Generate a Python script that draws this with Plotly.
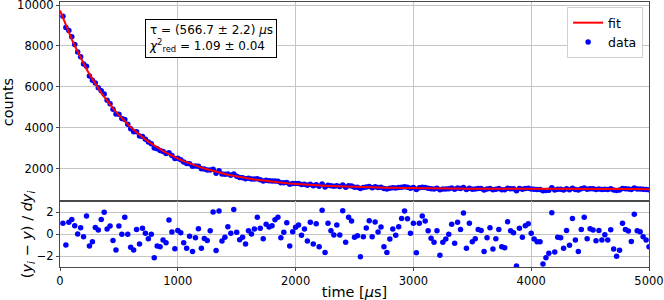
import numpy as np
import plotly.graph_objects as go
from plotly.subplots import make_subplots

# time of each bin [us]
time_us = [25 * k for k in range(1, 201)]

counts = [
    9457, 8907, 8755, 8447, 8078, 7707, 7468, 7121, 7012, 6534,
    6324, 6195, 5953, 5813, 5656, 5348, 5181, 4908, 4680, 4667,
    4459, 4411, 4167, 3956, 3810, 3802, 3601, 3572, 3435, 3302,
    3225, 3010, 2978, 2888, 2837, 2743, 2775, 2644, 2497, 2513,
    2438, 2331, 2249, 2245, 2125, 2133, 2121, 1993, 1988, 1937,
    1934, 1968, 1779, 1896, 1745, 1727, 1735, 1679, 1738, 1626,
    1572, 1555, 1507, 1531, 1497, 1493, 1513, 1455, 1401, 1431,
    1405, 1393, 1397, 1390, 1308, 1311, 1330, 1241, 1275, 1278,
    1274, 1231, 1240, 1193, 1242, 1165, 1221, 1141, 1246, 1108,
    1191, 1161, 1141, 1166, 1129, 1198, 1096, 1167, 1150, 1096,
    1097, 1029, 1085, 1107, 1125, 1074, 1114, 1080, 1092, 1031,
    1011, 1048, 1074, 1053, 1077, 1099, 1118, 1093, 1048, 1075,
    987, 1072, 1091, 1075, 1045, 1021, 1008, 1041, 967, 1004,
    1013, 1025, 1053, 997, 1057, 1035, 1081, 978, 1050, 996,
    1004, 1030, 1026, 964, 1004, 1032, 970, 999, 1026, 975,
    972, 1046, 1020, 1014, 917, 1026, 999, 1032, 1038, 1009,
    993, 985, 984, 920, 938, 950, 1067, 953, 996, 994,
    963, 1015, 972, 1049, 986, 953, 1017, 1052, 990, 1018,
    1014, 984, 1013, 985, 1001, 985, 1015, 959, 938, 955,
    1033, 1015, 1010, 981, 1058, 1011, 1008, 994, 984, 965,
]

# fitted model evaluated at t = 0 and at each bin
fit_time = [0] + time_us
fit_counts = [
    9740,
    9363, 9002, 8657, 8326, 8010, 7707, 7418, 7141, 6876, 6622,
    6380, 6148, 5926, 5713, 5510, 5315, 5129, 4951, 4780, 4617,
    4461, 4311, 4169, 4032, 3901, 3776, 3656, 3541, 3432, 3327,
    3226, 3130, 3038, 2950, 2866, 2786, 2709, 2635, 2564, 2497,
    2432, 2370, 2311, 2255, 2201, 2149, 2099, 2052, 2006, 1963,
    1921, 1882, 1844, 1807, 1772, 1739, 1707, 1677, 1647, 1620,
    1593, 1567, 1543, 1519, 1497, 1475, 1455, 1435, 1417, 1399,
    1381, 1365, 1349, 1334, 1320, 1306, 1293, 1280, 1268, 1256,
    1245, 1235, 1225, 1215, 1206, 1197, 1188, 1180, 1172, 1165,
    1158, 1151, 1145, 1138, 1132, 1127, 1121, 1116, 1111, 1106,
    1102, 1097, 1093, 1089, 1085, 1081, 1078, 1075, 1071, 1068,
    1065, 1063, 1060, 1057, 1055, 1052, 1050, 1048, 1046, 1044,
    1042, 1040, 1039, 1037, 1035, 1034, 1032, 1031, 1030, 1028,
    1027, 1026, 1025, 1024, 1023, 1022, 1021, 1020, 1019, 1018,
    1017, 1017, 1016, 1015, 1015, 1014, 1013, 1013, 1012, 1012,
    1011, 1011, 1010, 1010, 1009, 1009, 1009, 1008, 1008, 1008,
    1007, 1007, 1007, 1006, 1006, 1006, 1006, 1005, 1005, 1005,
    1005, 1004, 1004, 1004, 1004, 1004, 1004, 1003, 1003, 1003,
    1003, 1003, 1003, 1003, 1002, 1002, 1002, 1002, 1002, 1002,
    1002, 1002, 1002, 1002, 1002, 1002, 1001, 1001, 1001, 1001,
]

residuals = [
    0.97, -1.0, 1.06, 1.33, 0.76, 0.0, 0.58, -0.24, 1.64, -1.09,
    -0.7, 0.6, 0.36, 1.33, 1.97, 0.45, 0.73, -0.6, -1.45, 0.73,
    -0.03, 1.52, -0.03, -1.2, -1.45, 0.42, -0.9, 0.52, 0.06, -0.42,
    -0.03, -2.15, -1.09, -1.15, -0.55, -0.8, 1.27, 0.18, -1.33, 0.33,
    0.12, -0.8, -1.3, -0.2, -1.6, -0.33, 0.48, -1.3, -0.4, -0.58,
    0.3, 2.0, -1.5, 2.1, -0.64, -0.3, 0.67, 0.06, 2.24, 0.15,
    -0.52, -0.3, -0.9, 0.3, 0.0, 0.45, 1.52, 0.52, -0.42, 0.88,
    0.64, 0.76, 1.3, 1.52, -0.33, 0.15, 1.03, -1.09, 0.21, 0.61,
    0.82, -0.12, 0.45, -0.64, 1.06, -0.91, 0.94, -1.15, 2.15, -1.67,
    0.97, 0.3, -0.09, 0.82, -0.09, 2.12, -0.76, 1.52, 1.18, -0.3,
    -0.15, -2.06, -0.24, 0.55, 1.21, -0.24, 1.09, 0.18, 0.64, -1.15,
    -1.67, -0.45, 0.45, -0.12, 0.67, 1.42, 2.09, 1.39, 0.06, 0.97,
    -1.7, 0.97, 1.64, 1.18, 0.3, -0.39, -0.76, 0.3, -1.94, -0.76,
    -0.45, -0.03, 0.88, -0.85, 1.06, 0.42, 1.9, -1.3, 0.97, -0.7,
    -0.42, 0.42, 0.33, -1.6, -0.33, 0.58, -1.36, -0.42, 0.42, -1.15,
    -1.24, 1.12, 0.3, 0.12, -2.9, 0.52, -0.3, 0.76, 0.94, 0.06,
    -0.45, -0.7, -0.7, -2.73, -2.15, -1.76, 1.94, -1.64, -0.3, -0.33,
    -1.3, 0.33, -1.03, 1.42, -0.55, -1.6, 0.42, 1.52, -0.42, 0.48,
    0.36, -0.61, 0.33, -0.55, -0.06, -0.55, 0.39, -1.36, -2.03, -1.48,
    0.97, 0.42, 0.27, -0.67, 1.79, 0.3, 0.21, -0.24, -0.55, -1.15,
]

count_errors = np.sqrt(np.array(counts, dtype=float))

FONT = "DejaVu Sans"
GRID = "#c4c4c4"
SPINE = "#4a4a4a"

fig = make_subplots(rows=2, cols=1, shared_xaxes=True, vertical_spacing=0,
                    row_heights=[0.751, 0.249])

fig.add_trace(go.Scatter(
    x=time_us, y=counts, mode="markers", name="data",
    marker=dict(color="#0000ff", size=5.5),
    error_y=dict(type="data", array=count_errors, color="#0000ff",
                 thickness=1, width=0),
    legendrank=2,
), row=1, col=1)

fig.add_trace(go.Scatter(
    x=fit_time, y=fit_counts, mode="lines", name="fit",
    line=dict(color="#ff0000", width=2),
    legendrank=1,
), row=1, col=1)

fig.add_trace(go.Scatter(
    x=time_us, y=residuals, mode="markers", showlegend=False,
    marker=dict(color="#0000ff", size=5.5),
), row=2, col=1)

axis_common = dict(showgrid=True, gridcolor=GRID, gridwidth=1,
                   showline=True, linecolor=SPINE, linewidth=1, mirror=True,
                   zeroline=False, ticklabeloverflow="allow",
                   tickfont=dict(family=FONT, size=11.5, color="#000"),
                   ticks="outside", ticklen=3, tickcolor=SPINE)

fig.update_xaxes(**axis_common, range=[0, 5000], dtick=1000, tickformat="d")
fig.update_xaxes(showticklabels=False, ticks="", row=1, col=1)
fig.update_xaxes(row=2, col=1,
                 title=dict(text="time [<i>μ</i>s]", standoff=4,
                            font=dict(family=FONT, size=14.5, color="#000")))

fig.update_yaxes(**axis_common)
fig.update_yaxes(row=1, col=1, range=[420, 10150],
                 tickvals=[2000, 4000, 6000, 8000, 10000], tickformat="d")
fig.update_yaxes(row=2, col=1, range=[-3, 3], tickvals=[-2, 0, 2])

# y-axis labels as rotated annotations (precise placement)
fig.add_annotation(
    xref="paper", yref="paper", x=-0.088, y=0.622,
    xanchor="center", yanchor="middle", textangle=-90, showarrow=False,
    text="counts", font=dict(family=FONT, size=14.5, color="#000"),
)
fig.add_annotation(
    xref="paper", yref="paper", x=-0.054, y=0.1245,
    xanchor="center", yanchor="middle", textangle=-90, showarrow=False,
    text="(<i>y<sub>i</sub></i> − <i>y</i>) / <i>dy<sub>i</sub></i>",
    font=dict(family=FONT, size=14.5, color="#000"),
)

fig.add_annotation(
    xref="paper", yref="paper", x=0.1448, y=0.9374,
    xanchor="left", yanchor="top", align="left", showarrow=False,
    text="τ = (566.7 ± 2.2) <i>μ</i>s<br><i>χ</i><sup>2</sup><sub>red</sub> = 1.09 ± 0.04",
    font=dict(family=FONT, size=12, color="#000"),
    bordercolor="#000", borderwidth=1, borderpad=3, bgcolor="white",
)

fig.update_layout(
    width=664, height=300,
    margin=dict(l=60, r=15, t=2, b=33, autoexpand=False),
    paper_bgcolor="white", plot_bgcolor="white",
    font=dict(family=FONT, size=12, color="#000"),
    legend=dict(x=0.99, y=0.981, xanchor="right", yanchor="top",
                bgcolor="white", bordercolor="#d0d0d0", borderwidth=1,
                font=dict(family=FONT, size=12.5, color="#000"),
                itemwidth=30, tracegroupgap=0),
    showlegend=True,
)

fig.write_html(
    "out.html",
    config={"displayModeBar": False},
    post_script="document.body.style.margin='0';document.body.style.padding='0';",
)
